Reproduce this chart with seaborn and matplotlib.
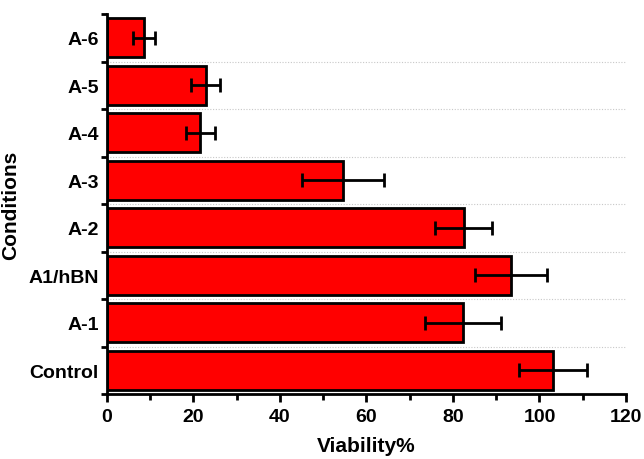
import numpy as np
import pandas as pd
import seaborn as sns
import matplotlib.pyplot as plt
from matplotlib.ticker import MultipleLocator, FixedLocator

# Data (top to bottom)
conditions = ['A-6', 'A-5', 'A-4', 'A-3', 'A-2', 'A1/hBN', 'A-1', 'Control']
viability = [8.6, 22.8, 21.6, 54.6, 82.5, 93.4, 82.3, 103.2]
errors = [2.6, 3.3, 3.4, 9.4, 6.6, 8.4, 8.7, 7.9]

df = pd.DataFrame({'Conditions': conditions, 'Viability%': viability})

sns.set_style('white')
plt.rcParams['font.family'] = ['Liberation Sans', 'DejaVu Sans']
plt.rcParams['font.weight'] = 'bold'
plt.rcParams['text.color'] = 'black'
plt.rcParams['axes.labelcolor'] = 'black'
plt.rcParams['xtick.color'] = 'black'
plt.rcParams['ytick.color'] = 'black'

fig = plt.figure(figsize=(6.44, 4.60), dpi=100)
ax = fig.add_axes([0.166, 0.141, 0.806, 0.826])

sns.barplot(data=df, x='Viability%', y='Conditions', order=conditions,
            color='#ff0000', saturation=1, edgecolor='black', linewidth=2,
            width=0.82, errorbar=None, ax=ax)

# error bars
ax.errorbar(viability, np.arange(len(conditions)), xerr=errors, fmt='none',
            ecolor='black', elinewidth=2, capsize=5, capthick=2, zorder=5)

# dotted separators between categories
for b in np.arange(0.5, len(conditions) - 0.5, 1):
    ax.axhline(b, color='#c8c8c8', linestyle=(0, (1, 1.5)), linewidth=0.8, zorder=0)

ax.set_xlim(0, 120)
ax.set_ylim(len(conditions) - 0.5, -0.5)
ax.xaxis.set_major_locator(MultipleLocator(20))
ax.xaxis.set_minor_locator(MultipleLocator(10))
ax.yaxis.set_minor_locator(FixedLocator(np.arange(-0.5, len(conditions), 1)))

ax.tick_params(axis='x', which='major', direction='out', length=6, width=2,
               bottom=True, labelsize=14, pad=4)
ax.tick_params(axis='x', which='minor', direction='out', length=4, width=2, bottom=True)
ax.tick_params(axis='y', which='major', length=0, labelsize=14, pad=6)
ax.tick_params(axis='y', which='minor', direction='out', length=4, width=2, left=True)

for lab in ax.get_xticklabels() + ax.get_yticklabels():
    lab.set_fontweight('bold')

for side in ['top', 'right']:
    ax.spines[side].set_visible(False)
for side in ['left', 'bottom']:
    ax.spines[side].set_linewidth(2)
    ax.spines[side].set_color('black')

ax.set_xlabel('Viability%', fontsize=15, fontweight='bold', labelpad=8)
ax.set_ylabel('Conditions', fontsize=15, fontweight='bold', labelpad=6)

fig.savefig('out.png', dpi=100)
